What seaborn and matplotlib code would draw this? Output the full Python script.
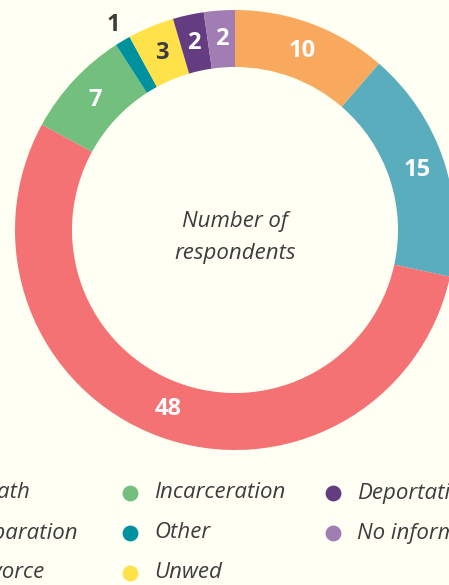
import matplotlib
matplotlib.use("Agg")
import matplotlib.pyplot as plt
import numpy as np
import pandas as pd
import seaborn as sns

# data
reasons = ["Death", "Separation", "Divorce", "Incarceration", "Other",
           "Unwed", "Deportation", "No information"]
counts = [10, 15, 48, 7, 1, 3, 2, 2]
colors = ["#F9A95E", "#5AADBD", "#F47174", "#72BF7E", "#00919F",
          "#FFE14A", "#633C82", "#A07DB3"]

BG = "#FFFFF3"
TXT = "#3D3D3F"

sns.set_theme(style="white")
plt.rcParams["font.family"] = ["Open Sans", "DejaVu Sans"]

df = pd.DataFrame({"reason": reasons, "count": counts, "color": colors})

fig = plt.figure(figsize=(4.49, 5.85), dpi=100, facecolor=BG)
ax = fig.add_axes([0, 0, 1, 1])
ax.set_facecolor(BG)

cx, cy = 235, 230
r_out, ring = 220, 57

# y axis is flipped below, so counterclock=True draws clockwise on screen
ax.pie(df["count"], colors=df["color"], center=(cx, cy),
       radius=r_out, startangle=-90, counterclock=True,
       wedgeprops=dict(width=ring, linewidth=0), frame=True)
ax.set_xlim(0, 449)
ax.set_ylim(585, 0)
ax.set_aspect("equal")
ax.axis("off")

# value labels
total = sum(counts)
cum = np.cumsum([0] + counts[:-1])
for i, (v, c0) in enumerate(zip(counts, cum)):
    frac = (c0 + v / 2) / total
    ang = np.deg2rad(90 - frac * 360)
    if v == 1:
        r = 238
        col = TXT
    else:
        r = r_out - ring / 2
        col = TXT if colors[i] == "#FFE14A" else "white"
    x = cx + r * np.cos(ang)
    y = cy - r * np.sin(ang)
    ax.text(x, y, str(v), ha="center", va="center", fontsize=17,
            fontweight="bold", color=col)

ax.text(cx, cy - 9, "Number of", ha="center", va="center", fontsize=16,
        style="italic", color=TXT)
ax.text(cx, cy + 23, "respondents", ha="center", va="center", fontsize=16,
        style="italic", color=TXT)

# legend, three columns, cut off by the figure edges like the reference
col_x = [-53, 130, 333]
row_y = [493, 533, 573]
for i, (name, col) in enumerate(zip(reasons, colors)):
    x = col_x[i // 3]
    y = row_y[i % 3]
    ax.scatter([x], [y], s=130, color=col, linewidths=0, clip_on=False)
    ax.text(x + 24, y, name, ha="left", va="center", fontsize=16,
            style="italic", color=TXT, clip_on=False)

fig.savefig("out.png", dpi=100, facecolor=BG)
